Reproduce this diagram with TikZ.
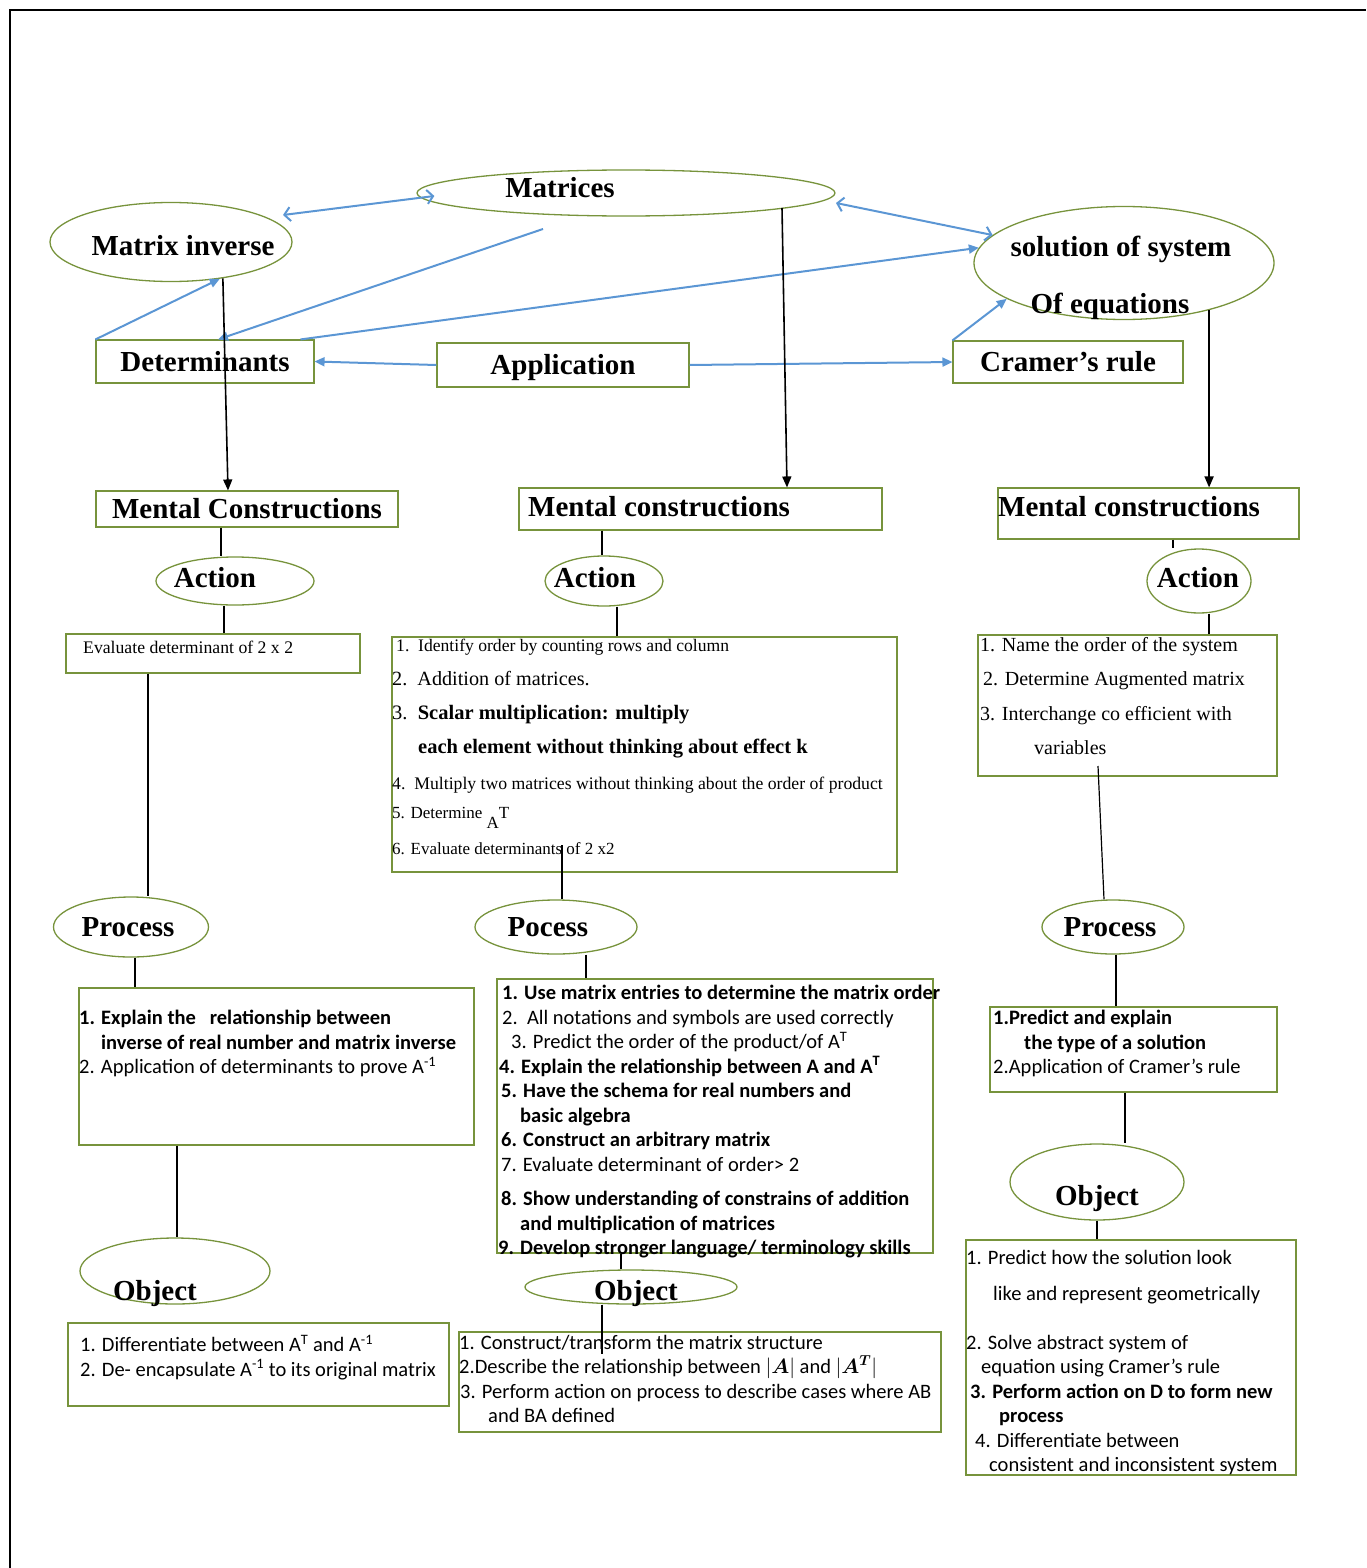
\documentclass[tikz,border=0pt]{standalone}
\usepackage{amsmath}
\usepackage{fontspec}
\setmainfont{Liberation Serif}
\newfontfamily\calfont{Carlito}
\usetikzlibrary{shapes.geometric,arrows.meta}
\definecolor{boxgreen}{RGB}{119,147,60}
\definecolor{arrowblue}{RGB}{91,150,212}

\tikzset{
  oval/.style={ellipse, draw=boxgreen, line width=1.3pt, inner sep=0pt},
  frame/.style={rectangle, draw=boxgreen, line width=1.1pt, inner sep=0pt},
  head/.style={font=\fontsize{29}{32}\selectfont\bfseries, inner sep=0pt, text height=19pt, text depth=0pt},
  serifline/.style={anchor=west, inner sep=0pt},
  serifpar/.style={anchor=north west, inner sep=0pt, align=left, font=\fontsize{20}{34.5}\selectfont},
  calpar/.style={anchor=north west, inner sep=0pt, align=left, font=\calfont\fontsize{20.5}{24.5}\selectfont},
  blarrow/.style={draw=arrowblue, line width=2pt, -{Triangle[length=10pt,width=9pt]}},
  bidir/.style={draw=arrowblue, line width=2pt, {Straight Barb[length=6pt,width=14pt]}-{Straight Barb[length=6pt,width=14pt]}},
  blkarrow/.style={line width=1.6pt, -{Triangle[length=11pt,width=9pt]}},
  link/.style={line width=1.2pt}
}

\begin{document}
\begin{tikzpicture}[x=1pt,y=-1pt]
\useasboundingbox (0,0) rectangle (1366,1568);
\draw[line width=1.5pt] (10,1568) -- (10,10) -- (1366,10);

% top level
\node[oval, minimum width=418pt, minimum height=46pt] (matrices) at (626,193) {};
\node[head] (matricest) at (560,188) {Matrices};
\node[oval, minimum width=242pt, minimum height=79pt] (minv) at (171,242) {};
\node[head] (minvt) at (183,246) {Matrix inverse};
\node[oval, minimum width=300pt, minimum height=113pt] (solution) at (1124,263) {};
\node[head] (solutiont) at (1121,247) {solution of system};
\node[head] (solutiont2) at (1110,304) {Of equations};
\node[frame, head, minimum width=218pt, minimum height=43pt] (determ) at (205,361.5) {Determinants};
\node[frame, head, minimum width=252pt, minimum height=44pt] (app) at (563,365) {Application};
\node[frame, head, minimum width=230pt, minimum height=42pt] (cramer) at (1068,362) {Cramer’s rule};

\coordinate (matfoot) at (543,229);
\draw[bidir] ([shift={(112,-27)}]minv.center) -- ([shift={(18,3)}]matrices.west);
\draw[bidir] ([shift={(210,10)}]matrices.center) -- (solution.168);
\draw[blarrow] (determ.north west) -- (minv.-37);
\draw[blarrow] (matfoot) -- ([xshift=13pt]determ.north);
\draw[blarrow] ([xshift=-14pt]determ.north east) -- (solution.174);
\draw[blarrow] (app.west) -- (determ.east);
\draw[blarrow] (app.east) -- (cramer.west);
\draw[blarrow] (cramer.north west) -- (solution.197);

% mental constructions
\node[frame, head, minimum width=302pt, minimum height=36pt] (mentalL) at (247,509) {Mental Constructions};
\node[frame, minimum width=363pt, minimum height=42pt] (mentalM) at (700.5,509) {};
\node[head, anchor=west] (mentalMt) at (528,507) {Mental constructions};
\node[frame, minimum width=301pt, minimum height=51pt] (mentalR) at (1148.5,513.5) {};
\node[head, anchor=west] (mentalRt) at (998,507) {Mental constructions};

\draw[blkarrow] (minv.-35) -- ([xshift=-19pt]mentalL.north);
\draw[blkarrow] ([shift={(156,15)}]matrices.center) -- ([xshift=86.5pt]mentalM.north);
\draw[blkarrow] (solution.-29) -- (solution.-29 |- mentalR.north);

% action
\node[oval, minimum width=158pt, minimum height=48pt] (actL) at (235,581) {};
\node[head] (actLt) at (215,578) {Action};
\node[oval, minimum width=118pt, minimum height=50pt] (actM) at (604,581) {};
\node[head] (actMt) at (595,578) {Action};
\node[oval, minimum width=104pt, minimum height=64pt] (actR) at (1199,581) {};
\node[head] (actRt) at (1198,578) {Action};

\node[frame, minimum width=294pt, minimum height=39pt] (actBoxL) at (213,653.5) {};
\node[serifline, font=\fontsize{17.7}{18}\selectfont] (actBoxLt) at (83,647) {Evaluate determinant of 2 x 2};

\node[frame, minimum width=505pt, minimum height=235pt] (actBoxM) at (644.5,754.5) {};
\node[serifline, font=\fontsize{17.6}{18}\selectfont] (am1) at (396,647) {1.\ \ Identify order by counting rows and column};
\node[serifline, font=\fontsize{20.2}{20}\selectfont] (am2) at (392,679) {2.\ \ Addition of matrices.};
\node[serifline, font=\fontsize{20.5}{20}\selectfont] (am3) at (392,715) {3.\ \ \textbf{Scalar multiplication: multiply}};
\node[serifline, font=\fontsize{20.5}{20}\selectfont\bfseries] (am4) at (418,749) {each element without thinking about effect k};
\node[serifline, font=\fontsize{17.7}{18}\selectfont] (am5) at (392,785) {4.\ \ Multiply two matrices without thinking about the order of product};
\node[serifline, font=\fontsize{17}{17}\selectfont] (am6) at (392,818) {5. Determine \raisebox{-10pt}{A}T};
\node[serifline, font=\fontsize{17}{17}\selectfont] (am7) at (392,849) {6. Evaluate determinants of 2 x2};

\node[frame, minimum width=299pt, minimum height=141pt] (actBoxR) at (1127.5,705.5) {};
\node[serifpar] (actBoxRt) at (980,637) {1. Name the order of the system\\
\hspace*{3pt}2. Determine Augmented matrix\\
3. Interchange co efficient with\\
\hspace*{54pt}variables};

\draw[link] (mentalL.south -| 221,0) -- (actL.north -| 221,0);
\draw[link] (actL.south -| 224,0) -- (actBoxL.north -| 224,0);
\draw[link] (mentalM.south -| 602,0) -- (actM.north -| 602,0);
\draw[link] (actM.south -| 617,0) -- (actBoxM.north -| 617,0);
\draw[link] (mentalR.south -| 1173,0) -- (actR.north -| 1173,0);
\draw[link] (actR.south -| 1209,0) -- (actBoxR.north -| 1209,0);

% process
\node[oval, minimum width=155pt, minimum height=60pt] (procL) at (131,927) {};
\node[head] (procLt) at (128,927) {Process};
\node[oval, minimum width=162pt, minimum height=54pt] (procM) at (556,927) {};
\node[head] (procMt) at (548,927) {Pocess};
\node[oval, minimum width=142pt, minimum height=54pt] (procR) at (1113,927) {};
\node[head] (procRt) at (1110,927) {Process};

\node[frame, minimum width=395pt, minimum height=157pt] (procBoxL) at (276.5,1066.5) {};
\node[calpar] (procBoxLt) at (79,1010) {\textbf{1. Explain the \ \ relationship between}\\
\hspace*{22pt}\textbf{inverse of real number and matrix inverse}\\
2. Application of determinants to prove A\textsuperscript{-1}};

\node[frame, minimum width=436pt, minimum height=274pt] (procBoxM) at (715,1116) {};
\node[calpar] (procBoxMt) at (498,985) {\hspace*{4pt}\textbf{1. Use matrix entries to determine the matrix order}\\
\hspace*{4pt}2.\ \ All notations and symbols are used correctly\\
\hspace*{13pt}3. Predict the order of the product/of A\textsuperscript{T}\\
\hspace*{1pt}\textbf{4. Explain the relationship between A and A\textsuperscript{T}}\\
\hspace*{3pt}\textbf{5. Have the schema for real numbers and}\\
\hspace*{22pt}\textbf{basic algebra}\\
\hspace*{3pt}\textbf{6. Construct an arbitrary matrix}\\
\hspace*{3pt}7. Evaluate determinant of order> 2\\[10pt]
\hspace*{3pt}\textbf{8. Show understanding of constrains of addition}\\
\hspace*{22pt}\textbf{and multiplication of matrices}\\
\textbf{9. Develop stronger language/ terminology skills}};

\node[frame, minimum width=287pt, minimum height=85pt] (procBoxR) at (1133.5,1049.5) {};
\node[calpar] (procBoxRt) at (993,1010) {\textbf{1.Predict and explain}\\
\hspace*{31pt}\textbf{the type of a solution}\\
2.Application of Cramer’s rule};

\coordinate (actMfoot) at (562,845);
\coordinate (actRfoot) at (1098,766);
\draw[link] (actBoxL.south -| 148,0) -- (procL.north -| 148,0);
\draw[link] (procL.south -| 135,0) -- (procBoxL.north -| 135,0);
\draw[link] (actMfoot) -- (procM.north -| 562,0);
\draw[link] (procM.south -| 586,0) -- (procBoxM.north -| 586,0);
\draw[link] (actRfoot) -- (procR.north -| 1104,0);
\draw[link] (procR.south -| 1116,0) -- (procBoxR.north -| 1116,0);

% object
\node[oval, minimum width=190pt, minimum height=66pt] (objL) at (175,1271) {};
\node[head] (objLt) at (155,1291) {Object};
\node[oval, minimum width=212pt, minimum height=34pt] (objM) at (631,1287) {};
\node[head] (objMt) at (636,1291) {Object};
\node[oval, minimum width=174pt, minimum height=76pt] (objR) at (1097,1182) {};
\node[head] (objRt) at (1097,1196) {Object};

\node[frame, minimum width=381pt, minimum height=83pt] (objBoxL) at (258.5,1364.5) {};
\node[calpar] (objBoxLt) at (80,1335) {1. Differentiate between A\textsuperscript{T} and A\textsuperscript{-1}\\
2. De- encapsulate A\textsuperscript{-1} to its original matrix};

\node[frame, minimum width=482pt, minimum height=100pt] (objBoxM) at (700,1382) {};
\node[calpar] (objBoxMt) at (459,1335) {1. Construct/transform the matrix structure\\
2.Describe the relationship between $|\boldsymbol{A}|$ and $|\boldsymbol{A}^{\boldsymbol{T}}|$\\
\hspace*{1pt}3. Perform action on process to describe cases where AB\\
\hspace*{29pt}and BA defined};

\node[frame, minimum width=330pt, minimum height=235pt] (objBoxR) at (1131,1357.5) {};
\node[calpar] (objBoxRt) at (966,1250) {1. Predict how the solution look\\[11.5pt]
\hspace*{27pt}like and represent geometrically\\[24.5pt]
2. Solve abstract system of\\
\hspace*{15pt}equation using Cramer’s rule\\
\hspace*{4pt}\textbf{3. Perform action on D to form new}\\
\hspace*{33pt}\textbf{process}\\
\hspace*{9pt}4. Differentiate between\\
\hspace*{23pt}consistent and inconsistent system};

\coordinate (objMfoot) at (602,1354);
\draw[link] (procBoxL.south -| 177,0) -- (objL.north -| 177,0);
\draw[link] (procBoxM.south -| 621,0) -- (objM.north -| 621,0);
\draw[link] (objM.south -| 602,0) -- (objMfoot);
\draw[link] (procBoxR.south -| 1125,0) -- (objR.north -| 1125,0);
\draw[link] (objR.south -| 1097,0) -- (objBoxR.north -| 1097,0);
\end{tikzpicture}
\end{document}
